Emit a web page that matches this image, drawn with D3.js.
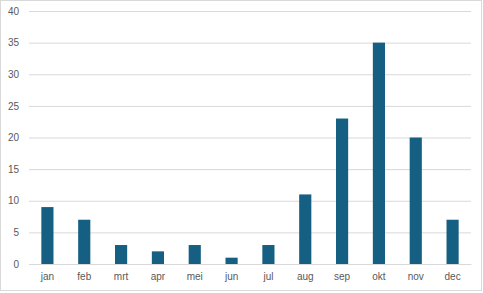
<!DOCTYPE html>
<html>
<head>
<meta charset="utf-8">
<script src="https://cdn.jsdelivr.net/npm/d3@7"></script>
<style>
  body { margin: 0; background: #fff; }
  svg { display: block; font-family: "Liberation Sans", Arial, sans-serif; }
</style>
</head>
<body>
<div class="chart"></div>
<script>
// data
const months = ["jan", "feb", "mrt", "apr", "mei", "jun", "jul", "aug", "sep", "okt", "nov", "dec"];
const values = [9, 7, 3, 2, 3, 1, 3, 11, 23, 35, 20, 7];
const yTicks = [0, 5, 10, 15, 20, 25, 30, 35, 40];

const width = 483, height = 293;
const margin = { top: 11, right: 12, bottom: 29, left: 29 };
const innerWidth = width - margin.left - margin.right;
const innerHeight = height - margin.top - margin.bottom;

const svg = d3.select(".chart").append("svg")
  .attr("width", width)
  .attr("height", height);

//chart frame
svg.append("rect")
  .attr("x", 0.5).attr("y", 0.5)
  .attr("width", width - 2).attr("height", height - 3)
  .attr("fill", "#fff")
  .attr("stroke", "#d9d9d9");

const g = svg.append("g").attr("transform", `translate(${margin.left},${margin.top})`);

const x = d3.scaleBand().domain(months).range([0, innerWidth]).paddingInner(0.67).paddingOuter(0.335);
const y = d3.scaleLinear().domain([0, 40]).range([innerHeight, 0]);

//gridlines + y labels
const yAxis = d3.axisLeft(y).tickValues(yTicks).tickSize(-innerWidth).tickPadding(10);
g.append("g").call(yAxis)
  .call(s => s.select(".domain").remove())
  .call(s => s.selectAll("line").attr("stroke", "#d9d9d9"))
  .call(s => s.selectAll("text").attr("fill", "#595959").attr("font-size", 10));

//bars
g.selectAll("rect.bar").data(values).enter().append("rect")
  .attr("class", "bar")
  .attr("x", (d, i) => x(months[i]))
  .attr("y", d => y(d))
  .attr("width", x.bandwidth())
  .attr("height", d => innerHeight - y(d))
  .attr("fill", "#156082");

//x axis
const xAxis = d3.axisBottom(x).tickSize(0).tickPadding(9);
g.append("g").attr("transform", `translate(0,${innerHeight})`).call(xAxis)
  .call(s => s.select(".domain").attr("stroke", "#d9d9d9"))
  .call(s => s.selectAll("text").attr("fill", "#595959").attr("font-size", 10));
</script>
</body>
</html>
